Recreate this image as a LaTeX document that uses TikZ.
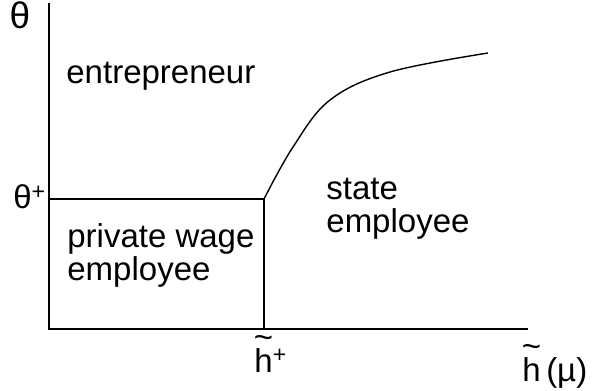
\documentclass[tikz,border=0pt]{standalone}
\usepackage{fontspec}
\setmainfont{Liberation Sans}
\usetikzlibrary{positioning}

% h with a wide tilde on top
\newcommand{\htil}{\ooalign{h\cr\hidewidth\raisebox{0.72em}{\char"007E}\hidewidth\cr}}

\begin{document}
\begin{tikzpicture}[
    x=1pt, y=-1pt,
    thick,
    line/.style={line width=1.6pt, black},
    lab/.style={inner sep=0pt, font=\fontsize{33}{33}\selectfont},
    region/.style={inner sep=0pt, align=left, font=\fontsize{33}{33}\selectfont}
]
    \useasboundingbox (0,0) rectangle (598,391);

    % Axes corners
    \coordinate (ytop)   at (49,3);
    \coordinate (orig)   at (49,329);
    \coordinate (xend)   at (528,329);
    \coordinate (thplus) at (49,199);
    \coordinate (kink)   at (264,199);
    \coordinate (hplus)  at (264,329);
    \coordinate (c1)     at (293,147);
    \coordinate (c2)     at (330,100);
    \coordinate (c3)     at (390,72);
    \coordinate (cend)   at (488,53);

    % Axes
    \draw [line] (ytop) -- (orig) -- (xend);

    % Boundaries of the regions
    \draw [line] (thplus) -- (kink) -- (hplus);
    \draw [line, line width=1.4pt] plot [smooth, tension=0.6] coordinates {(kink) (c1) (c2) (c3) (cend)};

    % Axis labels
    \node (theta)  [lab, font=\fontsize{37}{37}\selectfont] at (20,15) {θ};
    \node (thlab)  [lab, anchor=east] at (46,197) {θ\textsuperscript{+}};
    \node (hlab)   [lab, anchor=base west] at (254,372) {\htil\textsuperscript{+}};
    \node (hmu)    [lab, anchor=base west] at (522,381) {\htil\,(µ)};

    % Regions
    \node (entr)  [region, anchor=base west] at (66,83) {entrepreneur};
    \node (priv)  [region, anchor=north west] at (67,223) {private wage\\employee};
    \node (state) [region, anchor=north west] at (326,178) {state\\employee};

\end{tikzpicture}
\end{document}
